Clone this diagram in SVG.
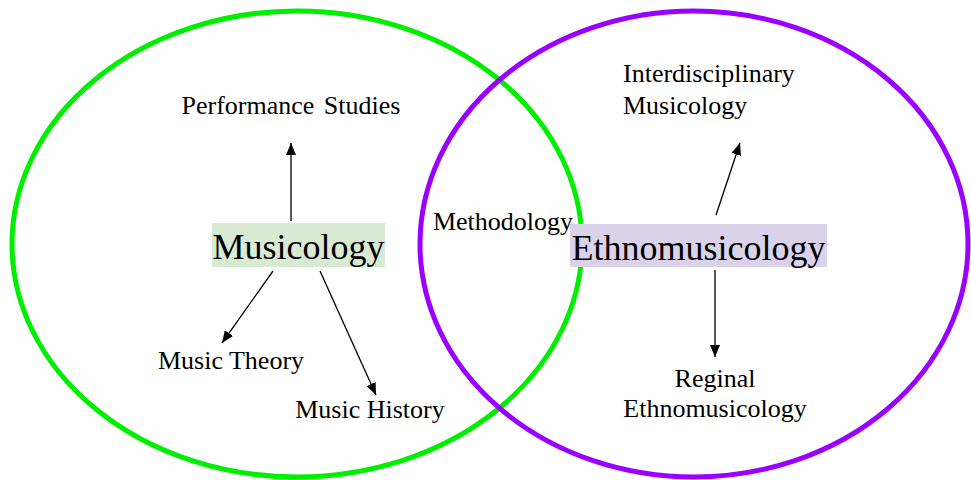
<svg xmlns="http://www.w3.org/2000/svg" width="971" height="480" viewBox="0 0 971 480">
<style>
text{font-family:'Liberation Serif','DejaVu Serif',serif;fill:#000;font-size:26px}
.big{font-size:36px}
.c{stroke:#000;stroke-width:1.3;fill:none;marker-end:url(#ah)}
</style>
<defs>
<marker id="ah" viewBox="0 0 12 10" refX="12" refY="5" markerWidth="12" markerHeight="10" markerUnits="userSpaceOnUse" orient="auto">
<path d="M0,0 L12,5 L0,10 Z" fill="#000"/>
</marker>
</defs>
<rect width="971" height="480" fill="#fff"/>
<g id="musicology-circle"><ellipse cx="297" cy="244" rx="285" ry="233" fill="none" stroke="#00ee00" stroke-width="5"/></g>
<g id="ethno-circle"><ellipse cx="694" cy="244" rx="274" ry="233" fill="none" stroke="#9900ff" stroke-width="5"/></g>
<g id="connectors">
<line class="c" x1="291" y1="221" x2="291" y2="143"/>
<line class="c" x1="273" y1="271" x2="222" y2="343"/>
<line class="c" x1="320" y1="271" x2="376" y2="395"/>
<line class="c" x1="716" y1="215" x2="740" y2="143"/>
<line class="c" x1="715" y1="270" x2="715" y2="357"/>
</g>
<g id="performance"><text x="291" y="114" text-anchor="middle" word-spacing="3">Performance Studies</text></g>
<g id="musicology"><rect x="212" y="223" width="173" height="44" fill="#d9ead3"/><text class="big" x="298.5" y="259" text-anchor="middle">Musicology</text></g>
<g id="theory"><text x="231" y="369" text-anchor="middle">Music Theory</text></g>
<g id="history"><text x="370" y="418" text-anchor="middle">Music History</text></g>
<g id="methodology"><text x="503" y="230" text-anchor="middle">Methodology</text></g>
<g id="ethnomusicology"><rect x="570" y="224" width="257" height="43" fill="#d9d2e9"/><text class="big" x="698.5" y="260" text-anchor="middle">Ethnomusicology</text></g>
<g id="interdisciplinary"><text x="623" y="82">Interdisciplinary</text><text x="623" y="114">Musicology</text></g>
<g id="regional"><text x="715" y="387" text-anchor="middle">Reginal</text><text x="715" y="417" text-anchor="middle">Ethnomusicology</text></g>
</svg>
